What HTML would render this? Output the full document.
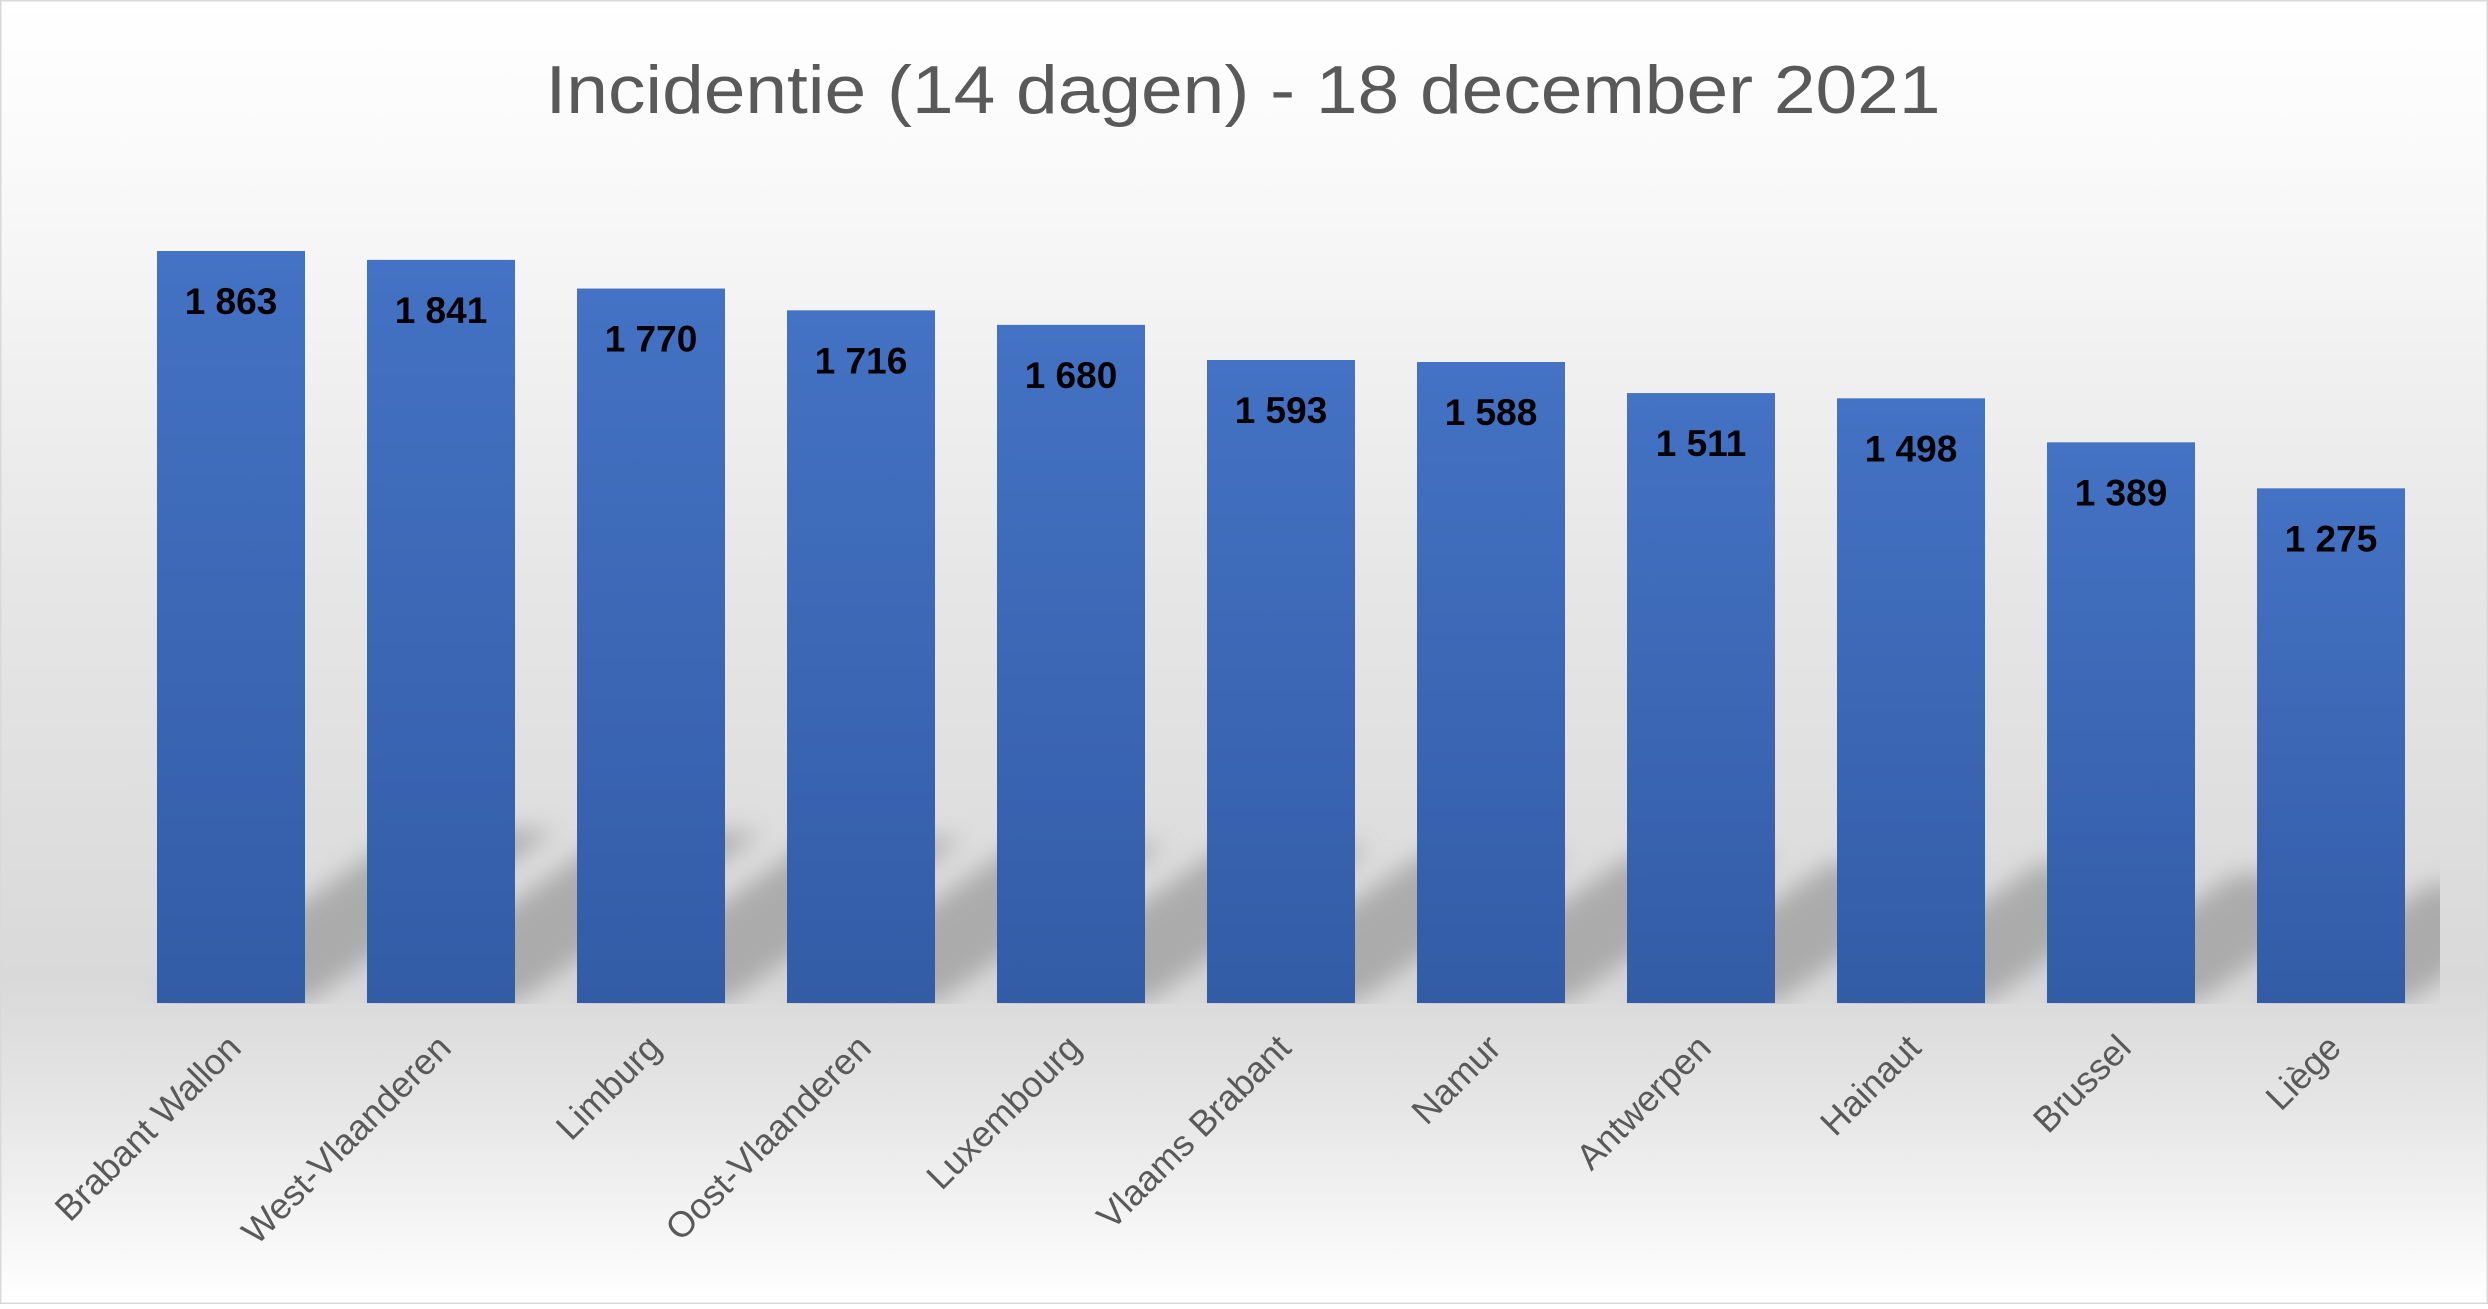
<!DOCTYPE html>
<html><head><meta charset="utf-8"><style>
html,body{margin:0;padding:0}
body{width:2488px;height:1304px;overflow:hidden}
</style></head><body>
<svg width="2488" height="1304" xmlns="http://www.w3.org/2000/svg">
<defs>
<linearGradient id="bg" x1="0" y1="0" x2="0" y2="1">
<stop offset="0" stop-color="#ffffff"/>
<stop offset="0.12" stop-color="#fafafa"/>
<stop offset="0.45" stop-color="#e6e6e6"/>
<stop offset="0.75" stop-color="#d9d9d9"/>
<stop offset="0.85" stop-color="#e6e6e6"/>
<stop offset="1" stop-color="#ffffff"/>
</linearGradient>
<linearGradient id="bar" x1="0" y1="0" x2="0" y2="1">
<stop offset="0" stop-color="#4472c4"/>
<stop offset="1" stop-color="#335ca6"/>
</linearGradient>
<filter id="blur" x="-50%" y="-50%" width="200%" height="200%"><feGaussianBlur stdDeviation="12"/></filter>
<clipPath id="cp"><rect x="0" y="0" width="2440" height="1004"/></clipPath>
</defs>
<rect x="0" y="0" width="2488" height="1304" fill="url(#bg)"/>
<rect x="0.5" y="0.5" width="2487" height="1303" fill="none" stroke="#d9d9d9" stroke-width="2"/>
<text x="1243" y="113" text-anchor="middle" font-family="Liberation Sans, sans-serif" font-size="68" fill="#595959" textLength="1395" lengthAdjust="spacingAndGlyphs">Incidentie (14 dagen) - 18 december 2021</text>
<g clip-path="url(#cp)"><g id="shadows" fill="#8c8c8c" opacity="0.6" filter="url(#blur)"></g></g>
<g id="bars"></g>
<g id="labels"></g>
</svg>
<script>
var d=[["Brabant Wallon",1863],["West-Vlaanderen",1841],["Limburg",1770],["Oost-Vlaanderen",1716],["Luxembourg",1680],["Vlaams Brabant",1593],["Namur",1588],["Antwerpen",1511],["Hainaut",1498],["Brussel",1389],["Liège",1275]];
var ns="http://www.w3.org/2000/svg";
function el(t,a,p,txt){var e=document.createElementNS(ns,t);for(var k in a)e.setAttribute(k,a[k]);if(txt)e.textContent=txt;document.getElementById(p).appendChild(e);return e;}
var base=1003,k=752/1863;
d.forEach(function(r,i){
var x=157+210*i,w=148,h=r[1]*k,top=base-h;
var sh=h*0.23;
el("polygon",{points:x+","+base+" "+(x+w)+","+base+" "+(x+w+sh*1.45)+","+(base-sh)+" "+(x+sh*1.45)+","+(base-sh)},"shadows");
el("rect",{x:x,y:top,width:w,height:h,fill:"url(#bar)"},"bars");
var s=String(r[1]);s=s[0]+" "+s.slice(1);
el("text",{x:x+w/2,y:top+63,"text-anchor":"middle","font-family":"Liberation Sans, sans-serif","font-size":"37","font-weight":"bold",fill:"#000"},"labels",s);
var cx=x+w/2+12,cy=1050;
el("text",{x:cx,y:cy,"text-anchor":"end","font-family":"Liberation Sans, sans-serif","font-size":"36",fill:"#595959",transform:"rotate(-45 "+cx+" "+cy+")"},"labels",r[0]);
});
</script>
</body></html>
